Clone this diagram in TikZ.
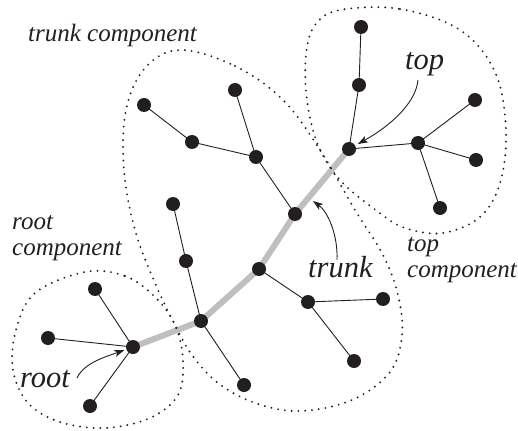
\documentclass[tikz,border=0pt]{standalone}
\usepackage{fontspec}
\setmainfont{Liberation Serif}
\newfontfamily\labfont{Liberation Serif}[ItalicFont={Liberation Serif Italic}]
\usetikzlibrary{arrows.meta,backgrounds}
\definecolor{ink}{RGB}{35,31,32}
\definecolor{trunkgray}{RGB}{190,191,193}
\begin{document}
\begin{tikzpicture}[x=1pt,y=-1pt,
  vtx/.style={circle,fill=ink,inner sep=0pt,minimum size=14pt},
  edge/.style={draw=ink,line width=0.9pt},
  trunkline/.style={draw=trunkgray,line width=6pt,line cap=round,line join=round},
  blob/.style={draw=ink,line width=2.1pt,line cap=round,dash pattern=on 0pt off 6.8pt},
  biglabel/.style={inner sep=0pt,anchor=base west,text=ink,font=\labfont\itshape\fontsize{30.5}{32}\selectfont},
  smalllabel/.style={inner sep=0pt,anchor=base west,text=ink,align=left,font=\labfont\itshape\fontsize{25}{26}\selectfont},
  pointer/.style={draw=ink,line width=0.9pt,-{Stealth[length=10pt,width=7pt,inset=2.5pt]}}]
\useasboundingbox (0,0) rectangle (518,430);

% vertices
\node[vtx] (r)  at (133,347) {};
\node[vtx] (r1) at (95,289) {};
\node[vtx] (r2) at (48,338) {};
\node[vtx] (r3) at (90,406) {};
\node[vtx] (t1) at (201,321) {};
\node[vtx] (t2) at (259,269) {};
\node[vtx] (t3) at (295,214) {};
\node[vtx] (tp) at (349,149) {};
\node[vtx] (a1) at (186,261) {};
\node[vtx] (a2) at (173,204) {};
\node[vtx] (a3) at (244,385) {};
\node[vtx] (b1) at (308,302) {};
\node[vtx] (b2) at (383,299) {};
\node[vtx] (b3) at (354,361) {};
\node[vtx] (c1) at (256,157) {};
\node[vtx] (c2) at (235,90) {};
\node[vtx] (c3) at (192,142) {};
\node[vtx] (c4) at (144,105) {};
\node[vtx] (d1) at (359,85) {};
\node[vtx] (d2) at (361,27) {};
\node[vtx] (e1) at (418,143) {};
\node[vtx] (e2) at (475,100) {};
\node[vtx] (e3) at (476,160) {};
\node[vtx] (e4) at (440,208) {};

\begin{scope}[on background layer]
  % tree edges
  \path[edge] (r.center) -- (r1.center);
  \path[edge] (r.center) -- (r2.center);
  \path[edge] (r.center) -- (r3.center);
  \path[edge] (t1.center) -- (a1.center) -- (a2.center);
  \path[edge] (t1.center) -- (a3.center);
  \path[edge] (t2.center) -- (b1.center) -- (b2.center);
  \path[edge] (b1.center) -- (b3.center);
  \path[edge] (t3.center) -- (c1.center) -- (c2.center);
  \path[edge] (c1.center) -- (c3.center) -- (c4.center);
  \path[edge] (tp.center) -- (d1.center) -- (d2.center);
  \path[edge] (tp.center) -- (e1.center) -- (e2.center);
  \path[edge] (e1.center) -- (e3.center);
  \path[edge] (e1.center) -- (e4.center);
  % trunk
  \path[trunkline] (r.center) -- (t1.center) -- (t2.center) -- (t3.center) -- (tp.center);
  % components
  \path[blob] plot[smooth cycle,tension=0.6] coordinates {
    (85,272) (125,276) (155,297) (175,325) (183,360) (178,395) (150,418)
    (105,428) (60,422) (28,403) (13,370) (16,330) (35,293)};
  \path[blob] plot[smooth cycle,tension=0.6] coordinates {
    (180,50) (235,66) (283,100) (320,150) (355,210) (383,255) (398,295)
    (402,335) (390,372) (352,400) (300,411) (255,403) (218,383) (192,355)
    (175,325) (155,283) (135,230) (124,170) (126,110) (145,68)};
  \path[blob] plot[smooth cycle,tension=0.6] coordinates {
    (340,10) (400,9) (460,30) (495,72) (506,130) (500,183) (480,217)
    (443,233) (405,228) (377,211) (340,180) (318,145) (307,100) (306,55) (315,25)};
\end{scope}

% labels
\node[smalllabel] (ltc) at (28,42) {trunk component};
\node[smalllabel] (lrc) at (12,255) {root\\component};
\node[smalllabel] (ltop) at (407,277) {top\\component};
\node[biglabel] (lroot) at (20,387) {root};
\node[biglabel] (ltrunk) at (308,277) {trunk};
\node[biglabel] (ltopl) at (405,70) {top};

% pointers
\coordinate (proot) at (77,378);
\coordinate (ptop) at (418,80);
\coordinate (ptrunk) at (337,260);
\coordinate (trunkhit) at (313,201);
\draw[pointer,shorten >=2pt] (proot) .. controls (84,363) and (105,357) .. (r);
\draw[pointer,shorten >=3pt] (ptop) .. controls (416,102) and (392,125) .. (tp);
\draw[pointer] (ptrunk) .. controls (338,235) and (328,212) .. (trunkhit);
\end{tikzpicture}
\end{document}
